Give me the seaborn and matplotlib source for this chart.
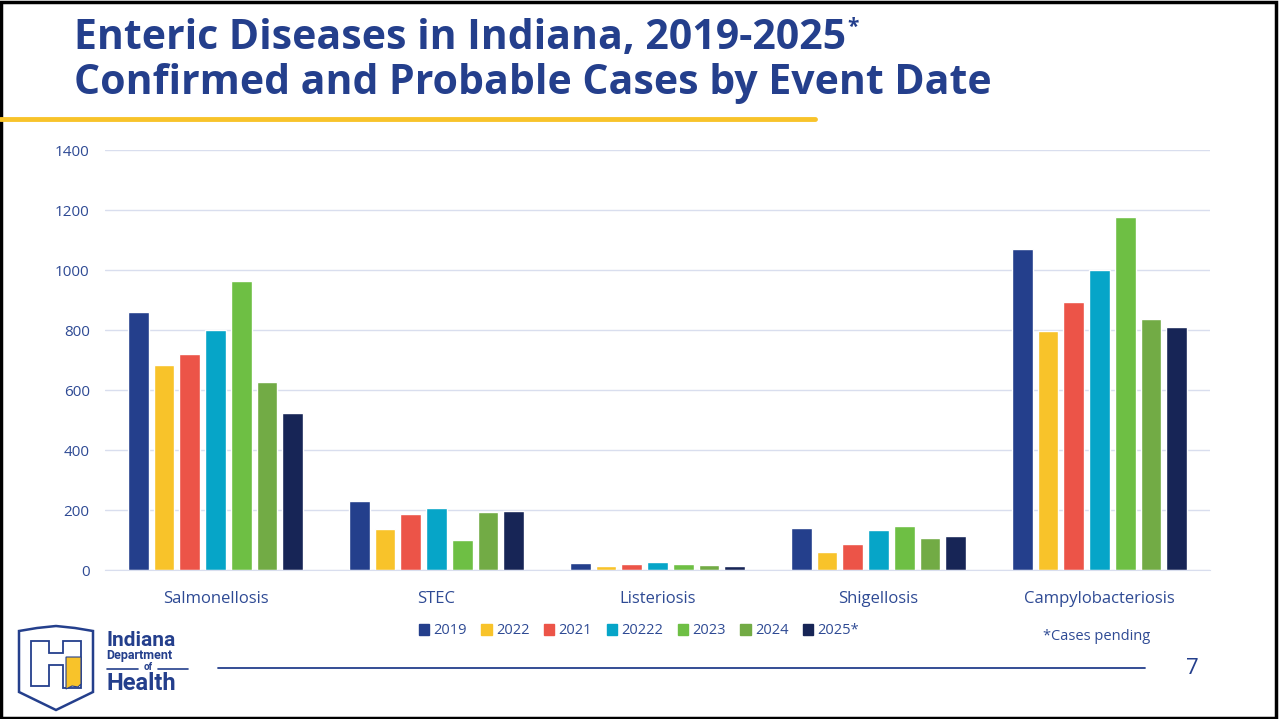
import numpy as np
import pandas as pd
import matplotlib
matplotlib.use('Agg')
import matplotlib.pyplot as plt
import seaborn as sns
from matplotlib.patches import Polygon, Rectangle
from matplotlib.lines import Line2D

diseases = ['Salmonellosis', 'STEC', 'Listeriosis', 'Shigellosis', 'Campylobacteriosis']
years = ['2019', '2022', '2021', '20222', '2023', '2024', '2025*']
cases_2019  = [859, 231, 23, 140, 1071]
cases_2022  = [683, 137, 14, 61, 798]
cases_2021  = [720, 187, 20, 88, 894]
cases_20222 = [799, 208, 27, 132, 1001]
cases_2023  = [963, 99, 19, 148, 1176]
cases_2024  = [626, 193, 17, 108, 837]
cases_2025  = [522, 196, 12, 112, 809]
colors = ['#243F8C', '#F8C32A', '#EC5448', '#06A5C8', '#6EBF44', '#72AB45', '#172556']

series = [cases_2019, cases_2022, cases_2021, cases_20222, cases_2023, cases_2024, cases_2025]
rows = []
for yr, vals in zip(years, series):
    for d, v in zip(diseases, vals):
        rows.append({'Disease': d, 'Year': yr, 'Cases': v})
df = pd.DataFrame(rows)

W, H = 1279, 719
sns.set_style('white')
plt.rcParams['font.family'] = ['Open Sans', 'DejaVu Sans']
fig = plt.figure(figsize=(W/100, H/100), dpi=100)
fig.patch.set_facecolor('white')

def px(x, y):
    return (x / W, 1 - y / H)

navy = '#243F8C'
txt = '#2E4A94'

ax = fig.add_axes([105/W, 1 - 570/H, (1210-105)/W, (570-150)/H])
sns.barplot(data=df, x='Disease', y='Cases', hue='Year', order=diseases, hue_order=years,
            palette=colors, width=0.815, gap=0.2, saturation=1, ax=ax, legend=False)
ax.set_ylim(0, 1400)
ax.set_yticks(range(0, 1401, 200))
ax.grid(axis='y', color='#D9DEEE', linewidth=1)
ax.set_axisbelow(True)
for s in ['top', 'right', 'left']:
    ax.spines[s].set_visible(False)
ax.spines['bottom'].set_color('#D9DEEE')
ax.tick_params(axis='both', length=0, labelcolor=txt, labelsize=11)
ax.tick_params(axis='y', pad=11)
ax.tick_params(axis='x', pad=15, labelsize=12)
ax.set_xlabel('')
ax.set_ylabel('')

# legend
handles = [Rectangle((0, 0), 1, 1, color=c) for c in colors]
fig.legend(handles, years, loc='center', bbox_to_anchor=px(639, 631), ncol=7, frameon=False,
           fontsize=10.5, labelcolor=txt, handlelength=0.7, handleheight=0.7,
           handletextpad=0.3, columnspacing=1.0)

# title
fig.text(*px(74, 38), 'Enteric Diseases in Indiana, 2019-2025', fontsize=29.5, fontweight='bold',
         color=navy, va='center', ha='left')
fig.text(*px(847, 27), '*', fontsize=15, fontweight='bold', color=navy,
         va='center', ha='left')
fig.text(*px(74, 83), 'Confirmed and Probable Cases by Event Date', fontsize=29.5, fontweight='bold',
         color=navy, va='center', ha='left')
fig.add_artist(Line2D([0, 815/W], [1 - 119/H] * 2, color='#F8C32A', linewidth=3.5))

# footer
fig.add_artist(Line2D([218/W, 1145/W], [1 - 668/H] * 2, color=navy, linewidth=1.3))
fig.text(*px(1192, 668), '7', fontsize=16, color=navy, ha='center', va='center')
fig.text(*px(1097, 636), '*Cases pending', fontsize=10.5, color=txt, ha='center', va='center')

# logo
def poly(pts, **kw):
    p = Polygon([px(x, y) for x, y in pts], closed=True, transform=fig.transFigure, **kw)
    fig.add_artist(p)

shield = [(19, 631), (37, 628), (56, 626), (75, 628), (93, 631), (93, 692), (56, 710), (19, 692)]
poly(shield, facecolor='white', edgecolor=navy, linewidth=1.8)
hshape = [(31, 641), (49, 641), (49, 653), (63, 653), (63, 641), (81, 641), (81, 688),
          (63, 688), (63, 665), (49, 665), (49, 686), (31, 686)]
poly(hshape, facecolor='white', edgecolor=navy, linewidth=1.3)
indiana = [(66, 657), (81, 657), (81, 684), (78, 687), (72, 686), (66, 689)]
poly(indiana, facecolor='#F8C32A', edgecolor=navy, linewidth=0.8)

fig.text(*px(106, 640), 'Indiana', fontsize=15, fontweight='bold', color=navy, family='Roboto',
         va='center', ha='left')
fig.text(*px(106, 656), 'Department', fontsize=9, fontweight='bold', color=navy, family='Roboto',
         va='center', ha='left')
fig.text(*px(148, 667), 'of', fontsize=7, fontweight='bold', color=navy, family='Roboto',
         va='center', ha='center')
fig.add_artist(Line2D([107/W, 138/W], [1 - 669/H] * 2, color=navy, linewidth=1.2))
fig.add_artist(Line2D([158/W, 188/W], [1 - 669/H] * 2, color=navy, linewidth=1.2))
fig.text(*px(106, 684), 'Health', fontsize=17, fontweight='bold', color=navy, family='Roboto',
         va='center', ha='left')

# slide border
fig.add_artist(Rectangle((0.001, 0.002), 0.997, 0.995, transform=fig.transFigure, fill=False,
                         edgecolor='black', linewidth=2.5))

fig.savefig('out.png', dpi=100)
